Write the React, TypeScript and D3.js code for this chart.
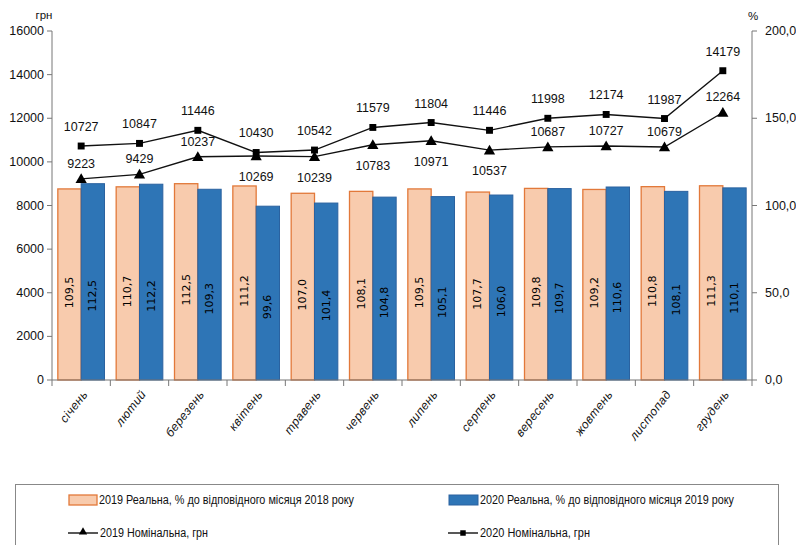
import React from 'react';
import * as d3 from 'd3';

const months = ['січень', 'лютий', 'березень', 'квітень', 'травень', 'червень', 'липень', 'серпень', 'вересень', 'жовтень', 'листопад', 'грудень'];

// real wage, % to same month of previous year (right axis)
const real2019 = [109.5, 110.7, 112.5, 111.2, 107.0, 108.1, 109.5, 107.7, 109.8, 109.2, 110.8, 111.3];
const real2020 = [112.5, 112.2, 109.3, 99.6, 101.4, 104.8, 105.1, 106.0, 109.7, 110.6, 108.1, 110.1];

// nominal wage, UAH (left axis)
const nominal2019 = [9223, 9429, 10237, 10269, 10239, 10783, 10971, 10537, 10687, 10727, 10679, 12264];
const nominal2020 = [10727, 10847, 11446, 10430, 10542, 11579, 11804, 11446, 11998, 12174, 11987, 14179];
// where the 2019 labels sit relative to the point
const nominal2019LabelSide = ['above', 'above', 'above', 'below', 'below', 'below', 'below', 'below', 'above', 'above', 'above', 'above'];

const leftTicks = [0, 2000, 4000, 6000, 8000, 10000, 12000, 14000, 16000];
const rightTicks = [0, 50, 100, 150, 200];

const W = 796;
const H = 545;
const margin = { top: 31, right: 44, bottom: 165, left: 52 };

const fmt1 = (v: number) => v.toFixed(1).replace('.', ',');

export default function App() {
  const x0 = margin.left;
  const x1 = W - margin.right;
  const yBottom = H - margin.bottom;

  const x = d3.scaleBand<string>().domain(months).range([x0, x1]).paddingInner(0.2).paddingOuter(0.1);
  const step = x.step();
  const cx = (m: string) => (x(m) ?? 0) + x.bandwidth() / 2;
  const barW = x.bandwidth() / 2;

  const yL = d3.scaleLinear().domain([0, 16000]).range([yBottom, margin.top]);
  const yR = d3.scaleLinear().domain([0, 200]).range([yBottom, margin.top]);

  const line = d3.line<number>().x((_, i) => cx(months[i])).y((d) => yL(d));
  const tri = d3.symbol().type(d3.symbolTriangle).size(55)();
  const sq = d3.symbol().type(d3.symbolSquare).size(48)();

  const tickFont = "'Liberation Sans', Arial, sans-serif";
  const narrow = "'Liberation Sans', Arial, sans-serif";

  return (
    <div style={{ position: 'absolute', left: 0, top: 0 }}>
      <svg width={W} height={H} style={{ display: 'block', background: '#fff' }}>
        {/* bars */}
        {months.map((m, i) => (
          <g key={m}>
            <rect x={x(m)} y={yR(real2019[i])} width={barW} height={yBottom - yR(real2019[i])}
              fill="#F8CBAD" stroke="#E2793A" strokeWidth={1.3} />
            <rect x={(x(m) ?? 0) + barW} y={yR(real2020[i])} width={barW} height={yBottom - yR(real2020[i])}
              fill="#2E75B6" stroke="#2a62a0" strokeWidth={1} />
            <text transform={`translate(${(x(m) ?? 0) + barW / 2},${(yR(real2019[i]) + yBottom) / 2 + 8}) rotate(-90)`}
              textAnchor="middle" dominantBaseline="central" fontFamily="'DejaVu Sans', sans-serif" fontSize={11} fill="#000">
              {fmt1(real2019[i])}
            </text>
            <text transform={`translate(${(x(m) ?? 0) + barW * 1.5},${(yR(real2020[i]) + yBottom) / 2 + 14}) rotate(-90)`}
              textAnchor="middle" dominantBaseline="central" fontFamily="'DejaVu Sans', sans-serif" fontSize={11} fill="#000">
              {fmt1(real2020[i])}
            </text>
          </g>
        ))}

        {/* lines */}
        <path d={line(nominal2019) ?? ''} fill="none" stroke="#111" strokeWidth={1.4} />
        <path d={line(nominal2020) ?? ''} fill="none" stroke="#111" strokeWidth={1.4} />
        {nominal2019.map((v, i) => (
          <g key={'a' + i}>
            <path d={tri ?? ''} transform={`translate(${cx(months[i])},${yL(v) + 1})`} fill="#000" />
            <text x={cx(months[i])} y={yL(v) + (nominal2019LabelSide[i] === 'above' ? -15 : 21)}
              textAnchor="middle" dominantBaseline="central" fontFamily={tickFont} fontSize={12.5} fill="#111">
              {v}
            </text>
          </g>
        ))}
        {nominal2020.map((v, i) => (
          <g key={'b' + i}>
            <path d={sq ?? ''} transform={`translate(${cx(months[i])},${yL(v)})`} fill="#000" />
            <text x={cx(months[i])} y={yL(v) - 19}
              textAnchor="middle" dominantBaseline="central" fontFamily={tickFont} fontSize={12.5} fill="#111">
              {v}
            </text>
          </g>
        ))}

        {/* left axis */}
        <line x1={x0} x2={x0} y1={margin.top} y2={yBottom} stroke="#777" />
        {leftTicks.map((t) => (
          <g key={t}>
            <line x1={x0 - 5} x2={x0} y1={yL(t)} y2={yL(t)} stroke="#777" />
            <text x={x0 - 8} y={yL(t)} textAnchor="end" dominantBaseline="central" fontFamily={tickFont} fontSize={12.5} fill="#111">{t}</text>
          </g>
        ))}
        <text x={44} y={15} textAnchor="middle" dominantBaseline="central" fontFamily={tickFont} fontSize={11.5} fill="#111">грн</text>

        {/* right axis */}
        <line x1={x1} x2={x1} y1={margin.top} y2={yBottom} stroke="#777" />
        {rightTicks.map((t) => (
          <g key={t}>
            <line x1={x1} x2={x1 + 5} y1={yR(t)} y2={yR(t)} stroke="#777" />
            <text x={x1 + 13} y={yR(t)} textAnchor="start" dominantBaseline="central" fontFamily={tickFont} fontSize={12.5} fill="#111">{fmt1(t)}</text>
          </g>
        ))}
        <text x={753} y={16} textAnchor="middle" dominantBaseline="central" fontFamily={tickFont} fontSize={11.5} fill="#111">%</text>

        {/* bottom axis */}
        <line x1={x0} x2={x1} y1={yBottom} y2={yBottom} stroke="#777" />
        {d3.range(months.length + 1).map((k) => (
          <line key={k} x1={x0 + k * step} x2={x0 + k * step} y1={yBottom} y2={yBottom + 6} stroke="#777" />
        ))}
        {months.map((m) => (
          <text key={m} transform={`translate(${cx(m) + 4},${yBottom + 12}) rotate(-52)`} textAnchor="end"
            dominantBaseline="central" fontFamily={tickFont} fontStyle="italic" fontSize={12} letterSpacing={0.4} fill="#111">
            {m}
          </text>
        ))}

        {/* legend */}
        <rect x={15.5} y={484.5} width={763} height={80} fill="none" stroke="#888" />
        <rect x={69} y={495} width={28} height={10} fill="#F8CBAD" stroke="#E2793A" strokeWidth={1.3} />
        <text x={99} y={500} dominantBaseline="central" fontFamily={narrow} fontSize={12.5} fill="#111"
          textLength={255} lengthAdjust="spacingAndGlyphs">2019 Реальна, % до відповідного місяця 2018 року</text>
        <rect x={449} y={495} width={29} height={10} fill="#2E75B6" stroke="#2a62a0" />
        <text x={480} y={500} dominantBaseline="central" fontFamily={narrow} fontSize={12.5} fill="#111"
          textLength={254} lengthAdjust="spacingAndGlyphs">2020 Реальна, % до відповідного місяця 2019 року</text>
        <line x1={68} x2={98} y1={533} y2={533} stroke="#111" strokeWidth={1.4} />
        <path d={d3.symbol().type(d3.symbolTriangle).size(30)() ?? ''} transform="translate(83,532)" fill="#000" />
        <text x={100} y={533} dominantBaseline="central" fontFamily={narrow} fontSize={12.5} fill="#111"
          textLength={108} lengthAdjust="spacingAndGlyphs">2019 Номінальна, грн</text>
        <line x1={448} x2={478} y1={533} y2={533} stroke="#111" strokeWidth={1.4} />
        <path d={d3.symbol().type(d3.symbolSquare).size(30)() ?? ''} transform="translate(463,533)" fill="#000" />
        <text x={480} y={533} dominantBaseline="central" fontFamily={narrow} fontSize={12.5} fill="#111"
          textLength={110} lengthAdjust="spacingAndGlyphs">2020 Номінальна, грн</text>
      </svg>
    </div>
  );
}
